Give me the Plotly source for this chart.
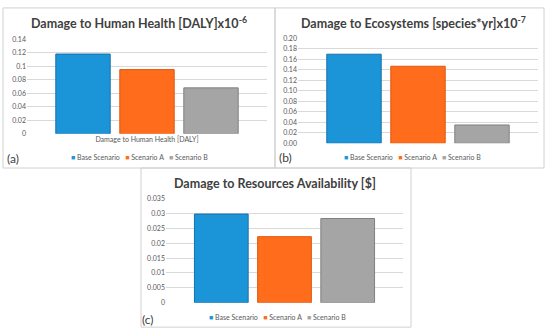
import plotly.graph_objects as go

W, H = 550, 336

series_names = ["Base Scenario", "Scenario A", "Scenario B"]
bar_colors = ["#1b95d8", "#ff6c1c", "#a5a5a5"]
bar_lines = ["#1670ad", "#e0580e", "#808080"]

# Panel (a)
cat_a = ["Damage to Human Health [DALY]"]
vals_a = [0.118, 0.095, 0.068]
ticks_a = [0, 0.02, 0.04, 0.06, 0.08, 0.1, 0.12, 0.14]
ticklabels_a = ["0", "0.02", "0.04", "0.06", "0.08", "0.1", "0.12", "0.14"]
title_a = "Damage to Human Health [DALY]x10<sup>-6</sup>"

# Panel (b)
cat_b = ["Damage to Ecosystems"]
vals_b = [0.170, 0.147, 0.035]
ticks_b = [0, 0.02, 0.04, 0.06, 0.08, 0.10, 0.12, 0.14, 0.16, 0.18, 0.20]
ticklabels_b = ["0.00", "0.02", "0.04", "0.06", "0.08", "0.10", "0.12", "0.14", "0.16", "0.18", "0.20"]
title_b = "Damage to Ecosystems [species*yr]x10<sup>-7</sup>"

# Panel (c)
cat_c = ["Damage to Resources Availability"]
vals_c = [0.0298, 0.0222, 0.0283]
ticks_c = [0, 0.005, 0.01, 0.015, 0.02, 0.025, 0.03, 0.035]
ticklabels_c = ["0", "0.005", "0.01", "0.015", "0.02", "0.025", "0.03", "0.035"]
title_c = "Damage to Resources Availability [$]"

panel_labels = ["(a)", "(b)", "(c)"]

FONT = "Lato, Carlito, Calibri, 'Open Sans', sans-serif"
TXT = "#595959"
GRID = "#d9d9d9"


def px(x):
    return x / W


def py(y):
    return 1 - y / H


fig = go.Figure()

panels = [
    dict(cat=cat_a, vals=vals_a, ticks=ticks_a, labels=ticklabels_a, ax="x", ay="y",
         xd=[27, 267], yd=[132, 35], rng=[0, 0.14], showcat=True),
    dict(cat=cat_b, vals=vals_b, ticks=ticks_b, labels=ticklabels_b, ax="x2", ay="y2",
         xd=[298, 538], yd=[141.7, 34.3], rng=[0, 0.20], showcat=False),
    dict(cat=cat_c, vals=vals_c, ticks=ticks_c, labels=ticklabels_c, ax="x3", ay="y3",
         xd=[166, 403], yd=[305, 198.3], rng=[0, 0.035], showcat=False),
]

layout_axes = {}
for i, p in enumerate(panels):
    for j, name in enumerate(series_names):
        fig.add_trace(go.Bar(
            x=p["cat"], y=[p["vals"][j]], name=name,
            xaxis=p["ax"], yaxis=p["ay"], showlegend=False,
            marker=dict(color=bar_colors[j], line=dict(color=bar_lines[j], width=1)),
        ))
    suffix = "" if i == 0 else str(i + 1)
    layout_axes["xaxis" + suffix] = dict(
        domain=[px(p["xd"][0]), px(p["xd"][1])],
        anchor="y" + suffix, showgrid=False, zeroline=False, showline=False,
        showticklabels=p["showcat"], ticks="",
        tickfont=dict(size=7, color=TXT, family=FONT),
    )
    layout_axes["yaxis" + suffix] = dict(
        domain=[py(p["yd"][0]), py(p["yd"][1])],
        anchor="x" + suffix, range=p["rng"],
        tickvals=p["ticks"], ticktext=p["labels"],
        showgrid=True, gridcolor=GRID, gridwidth=1,
        zeroline=False, showline=False, ticks="",
        tickfont=dict(size=7, color=TXT, family=FONT),
    )

fig.update_layout(**layout_axes)

# panel frames
frames = [(3, 3, 275, 167), (275, 3, 544, 167), (141, 167, 411, 330)]
shapes = []
for (x0, y0, x1, y1) in frames:
    shapes.append(dict(type="rect", xref="paper", yref="paper",
                       x0=px(x0), x1=px(x1), y0=py(y1), y1=py(y0),
                       line=dict(color="#d0d0d0", width=1), layer="below"))

annotations = []
titles = [(title_a, 139, 18), (title_b, 413, 18), (title_c, 275, 183)]
for t, x, y in titles:
    annotations.append(dict(text="<b>" + t + "</b>", x=px(x), y=py(y), xref="paper", yref="paper",
                            showarrow=False, xanchor="center", yanchor="middle",
                            font=dict(size=12.5, color="#404040", family=FONT)))

legend_pos = [(139, 156), (412, 156), (277, 320)]
legend_text = "&nbsp;&nbsp;&nbsp;".join(
    "<span style='color:%s'>■</span> %s" % (c, n) for c, n in zip(bar_colors, series_names))
for x, y in legend_pos:
    annotations.append(dict(text=legend_text, x=px(x), y=py(y), xref="paper", yref="paper",
                            showarrow=False, xanchor="center", yanchor="middle",
                            font=dict(size=7, color=TXT, family=FONT)))

label_pos = [(13, 157), (285, 156), (148, 322)]
for lab, (x, y) in zip(panel_labels, label_pos):
    annotations.append(dict(text=lab, x=px(x), y=py(y), xref="paper", yref="paper",
                            showarrow=False, xanchor="center", yanchor="middle",
                            font=dict(size=12, color="#404040", family=FONT)))

fig.update_layout(
    width=W, height=H, margin=dict(l=0, r=0, t=0, b=0),
    paper_bgcolor="white", plot_bgcolor="white",
    barmode="group", bargap=0.2, bargroupgap=0.15,
    shapes=shapes, annotations=annotations,
    font=dict(family=FONT, color=TXT),
)

fig.write_html("out.html", config={"displayModeBar": False},
               post_script="document.body.style.margin='0';document.body.style.padding='0';")
